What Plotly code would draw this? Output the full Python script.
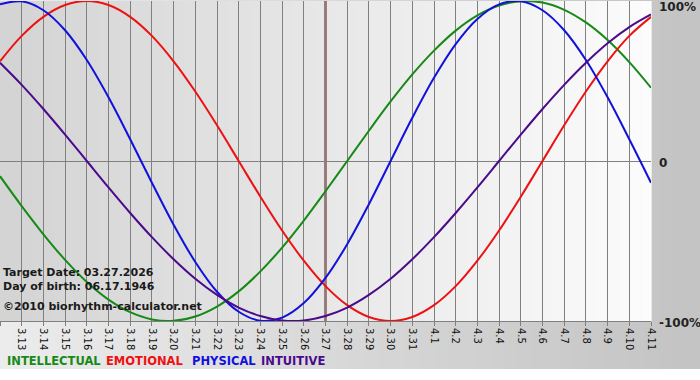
import plotly.graph_objects as go

# ---------------- data ----------------
days = ["3.12", "3.13", "3.14", "3.15", "3.16", "3.17", "3.18", "3.19", "3.20", "3.21",
        "3.22", "3.23", "3.24", "3.25", "3.26", "3.27", "3.28", "3.29", "3.30", "3.31",
        "4.1", "4.2", "4.3", "4.4", "4.5", "4.6", "4.7", "4.8", "4.9", "4.10", "4.11"]

intellectual = [-9.5, -28.2, -45.8, -61.8, -75.6, -86.6, -94.5, -99.0, -99.9, -97.2,
                -91.0, -81.5, -69.0, -54.1, -37.2, -18.9, 0.0, 18.9, 37.2, 54.1,
                69.0, 81.5, 91.0, 97.2, 99.9, 99.0, 94.5, 86.6, 75.6, 61.8, 45.8]

emotional = [62.3, 78.2, 90.1, 97.5, 100.0, 97.5, 90.1, 78.2, 62.3, 43.4,
             22.3, 0.0, -22.3, -43.4, -62.3, -78.2, -90.1, -97.5, -100.0, -97.5,
             -90.1, -78.2, -62.3, -43.4, -22.3, 0.0, 22.3, 43.4, 62.3, 78.2, 90.1]

physical = [97.9, 99.8, 94.2, 81.7, 63.1, 39.8, 13.6, -13.6, -39.8, -63.1,
            -81.7, -94.2, -99.8, -97.9, -88.8, -73.1, -52.0, -27.0, 0.0, 27.0,
            52.0, 73.1, 88.8, 97.9, 99.8, 94.2, 81.7, 63.1, 39.8, 13.6, -13.6]

intuitive = [61.4, 47.6, 32.5, 16.5, 0.0, -16.5, -32.5, -47.6, -61.4, -73.6,
             -83.7, -91.6, -96.9, -99.7, -99.7, -96.9, -91.6, -83.7, -73.6, -61.4,
             -47.6, -32.5, -16.5, 0.0, 16.5, 32.5, 47.6, 61.4, 73.6, 83.7, 91.6]

series_names = ["INTELLECTUAL", "EMOTIONAL", "PHYSICAL", "INTUITIVE"]
target_day = "3.27"
y_tick_vals = [100, 0, -100]
y_tick_text = ["100%", "0", "-100%"]
info_lines = ["Target Date: 03.27.2026", "Day of birth: 06.17.1946",
              "\u00a92010 biorhythm-calculator.net"]

# ---------------- style ----------------
colors = ["#168a16", "#ee1111", "#1111dd", "#4b0a8c"]
FONT = "Verdana, DejaVu Sans, sans-serif"
W, H = 700, 380
PL, PR, PT, PB = 0, 651, 1, 321  # plot area in pixels


def px_x(p):
    return (p - PL) / (PR - PL)


def px_y(p):
    return (PB - p) / (PB - PT)


x = list(range(len(days)))
fig = go.Figure()
for name, vals, col in zip(series_names, [intellectual, emotional, physical, intuitive], colors):
    fig.add_trace(go.Scatter(x=x, y=vals, mode="lines", name=name,
                             line=dict(color=col, width=2, shape="spline", smoothing=1),
                             hoverinfo="skip", showlegend=False, cliponaxis=False))

shapes = []
# paper gradient (light left -> grey right)
N = 50
x0p, x1p = 0.0, px_x(W)
for i in range(N):
    t = i / (N - 1)
    c = int(236 - t * (236 - 196))
    shapes.append(dict(type="rect", xref="paper", yref="paper", layer="below",
                       x0=x0p + (x1p - x0p) * i / N, x1=x0p + (x1p - x0p) * (i + 1) / N + 0.002,
                       y0=px_y(369), y1=px_y(-2),
                       line=dict(width=0), fillcolor=f"rgb({c},{c},{c})"))
# plot-area gradient (grey left -> white right)
M = 60
for i in range(M):
    t = i / (M - 1)
    c = int(212 + t * (252 - 212))
    shapes.append(dict(type="rect", xref="paper", yref="paper", layer="below",
                       x0=i / M, x1=(i + 1) / M + 0.001, y0=0, y1=1,
                       line=dict(width=0), fillcolor=f"rgb({c},{c},{c})"))
# target-day marker
tx = days.index(target_day)
shapes.append(dict(type="line", xref="x", yref="paper", layer="below",
                   x0=tx, x1=tx, y0=0, y1=1, line=dict(color="#6a0c0c", width=2)))

annotations = []
for v, t in zip(y_tick_vals, y_tick_text):
    annotations.append(dict(x=1, xref="paper", y=v, yref="y", text="<b>%s</b>" % t,
                            showarrow=False, xanchor="left", yanchor="middle",
                            xshift=6, yshift=(-6 if v == 100 else -2),
                            font=dict(family=FONT, size=12, color="#222222")))
info_y = [272, 286, 306]
for t, py in zip(info_lines, info_y):
    annotations.append(dict(x=0, xref="paper", y=px_y(py), yref="paper",
                            text="<b>%s</b>" % t, showarrow=False,
                            xanchor="left", yanchor="middle", xshift=1,
                            font=dict(family=FONT, size=11, color="#1a1a1a")))
legend_x = [7, 106, 192, 261]
for n, c, lx in zip(series_names, colors, legend_x):
    annotations.append(dict(x=px_x(lx), xref="paper", y=px_y(361), yref="paper",
                            text="<b>%s</b>" % n, showarrow=False, xanchor="left",
                            yanchor="middle", xshift=-2,
                            font=dict(family=FONT, size=11.5, color=c)))

fig.update_layout(
    width=W, height=H,
    margin=dict(l=PL, r=W - PR, t=PT, b=H - PB, autoexpand=False),
    paper_bgcolor="white", plot_bgcolor="rgba(0,0,0,0)",
    shapes=shapes, annotations=annotations,
    xaxis=dict(range=[0, len(days) - 1], tickmode="array", tickvals=x, ticktext=days,
               tickangle=90, automargin=False,
               tickfont=dict(family="Tahoma, DejaVu Sans, sans-serif", size=10, color="#111"),
               showgrid=True, gridcolor="#808080", gridwidth=1,
               ticks="outside", ticklen=4, tickcolor="#808080",
               showline=True, linecolor="#808080", linewidth=1, zeroline=False, fixedrange=True),
    yaxis=dict(range=[-100, 100], showticklabels=False, showgrid=False, automargin=False,
               zeroline=True, zerolinecolor="#808080", zerolinewidth=1,
               showline=False, ticks="", fixedrange=True),
)

fig.write_html("out.html", config={"displayModeBar": False},
               post_script="document.body.style.margin='0';document.body.style.overflow='hidden';")
